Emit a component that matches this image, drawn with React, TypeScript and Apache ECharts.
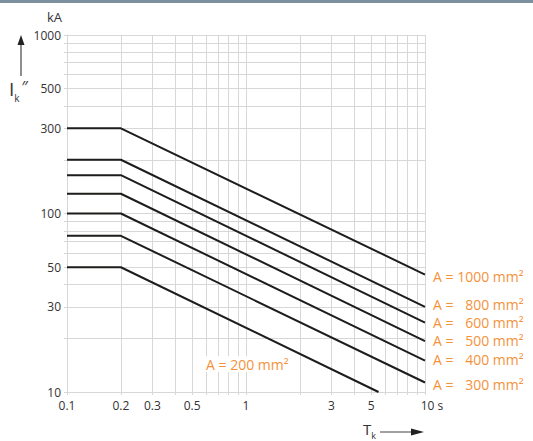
import React, { useEffect, useRef } from "react";
import * as echarts from "echarts";

const timesMain = [0.1, 0.2, 10];
const times200 = [0.1, 0.2, 5.5];
const areas = [1000, 800, 600, 500, 400, 300];
const currents1000 = [300, 300, 45.5];
const currents800 = [200, 200, 30];
const currents600 = [164, 164, 24.5];
const currents500 = [129, 129, 19.3];
const currents400 = [100, 100, 15];
const currents300 = [75, 75, 11.3];
const currents200 = [50, 50, 10];
const xGrid = [0.1, 0.2, 0.3, 0.4, 0.5, 0.6, 0.7, 0.8, 0.9, 1, 2, 3, 4, 5, 6, 7, 8, 9, 10];
const yGrid = [10, 20, 30, 40, 50, 60, 70, 80, 90, 100, 200, 300, 400, 500, 600, 700, 800, 900, 1000];
const xLabels = [0.1, 0.2, 0.3, 0.5, 1, 3, 5, 10];
const yLabels = [10, 30, 50, 100, 300, 500, 1000];

// vertical nudges of the right-hand labels (styling only)
const labelNudge = [2, -2, 0, -1, -1.5, 1.5];

const FONT = "'Open Sans', 'Noto Sans', sans-serif";
const ORANGE = "#f4923a";
const GRID = "#d7d7d7";
const LINE = "#1d1d1b";
const TEXT = "#333333";

export default function App() {
  const ref = useRef<HTMLDivElement>(null);
  useEffect(() => {
    document.body.style.margin = "0";
    const chart = echarts.init(ref.current!, null, { renderer: "svg" });
    const mainSets = [currents1000, currents800, currents600, currents500, currents400, currents300];
    const series: any[] = mainSets.map((vals, i) => {
      const num = String(areas[i]);
      const pad = num.length < 4 ? "\u2007".repeat(4 - num.length) : "";
      return {
        type: "line",
        name: "A" + areas[i],
        data: timesMain.map((t, j) => [t, vals[j]]),
        symbol: "none",
        lineStyle: { color: LINE, width: 2 },
        endLabel: {
          show: true,
          distance: 8,
          offset: [0, labelNudge[i]],
          formatter: "A = " + pad + num + " mm²",
          color: ORANGE,
          fontSize: 14,
          lineHeight: 15,
          fontFamily: FONT,
        },
      };
    });
    series.push({
      type: "line",
      name: "A200",
      data: times200.map((t, j) => [t, currents200[j]]),
      symbol: "none",
      lineStyle: { color: LINE, width: 2 },
    });
    chart.setOption({
      animation: false,
      grid: { left: 67, right: 108, top: 35, bottom: 49 },
      xAxis: {
        type: "log",
        logBase: 10,
        min: 0.1,
        max: 10,
        axisLine: { lineStyle: { color: GRID, width: 1 } },
        axisTick: { show: true, customValues: xGrid, length: 3, lineStyle: { color: GRID } },
        splitLine: { show: true, lineStyle: { color: GRID, width: 1 } },
        axisLabel: {
          customValues: xLabels,
          color: TEXT,
          fontSize: 12,
          fontFamily: FONT,
          margin: 7,
          formatter: (v: number) => (Math.abs(v - 10) < 1e-6 ? "{p|}10 s" : String(+v.toPrecision(3))),
          rich: { p: { width: 14 } },
        },
      },
      yAxis: {
        type: "log",
        logBase: 10,
        min: 10,
        max: 1000,
        axisLine: { show: true, lineStyle: { color: GRID, width: 1 } },
        axisTick: { show: true, customValues: yGrid, length: 3, lineStyle: { color: GRID } },
        splitLine: { show: true, lineStyle: { color: GRID, width: 1 } },
        axisLabel: {
          customValues: yLabels,
          color: TEXT,
          fontSize: 12,
          fontFamily: FONT,
          margin: 6,
          formatter: (v: number) => String(Math.round(v)),
        },
      },
      graphic: [
        { type: "rect", shape: { x: 0, y: 0, width: 533, height: 3 }, style: { fill: "#7b8f9c" } },
        { type: "text", x: 62, y: 17, style: { text: "kA", fill: TEXT, font: "13px " + FONT, align: "right", verticalAlign: "middle" } },
        { type: "line", shape: { x1: 21, y1: 44, x2: 21, y2: 76 }, style: { stroke: "#444", lineWidth: 1.2 } },
        { type: "polygon", shape: { points: [[21, 35], [17.5, 45], [24.5, 45]] }, style: { fill: "#222" } },
        {
          type: "text",
          x: 9,
          y: 79,
          style: {
            text: "{i|I}{k|k}{q|″}",
            rich: {
              i: { fontSize: 19, fontFamily: FONT, fill: TEXT, verticalAlign: "top" },
              k: { fontSize: 10, fontFamily: FONT, fill: TEXT, padding: [14, 0, 0, 0] },
              q: { fontSize: 16, fontFamily: FONT, fill: TEXT, padding: [0, 0, 8, 2] },
            },
          },
        },
        {
          type: "text",
          x: 363,
          y: 417,
          style: {
            text: "{t|T}{k|k}",
            rich: {
              t: { fontSize: 15, fontFamily: FONT, fill: TEXT },
              k: { fontSize: 9, fontFamily: FONT, fill: TEXT, padding: [14, 0, 0, 0] },
            },
          },
        },
        { type: "line", shape: { x1: 380, y1: 432, x2: 414, y2: 432 }, style: { stroke: "#444", lineWidth: 1.2 } },
        { type: "polygon", shape: { points: [[424, 432], [411, 428.5], [411, 435.5]] }, style: { fill: "#222" } },
        {
          type: "text",
          x: 205,
          y: 364,
          z: 10,
          style: {
            text: "A = 200 mm²",
            fill: ORANGE,
            font: "14px " + FONT,
            verticalAlign: "middle",
            backgroundColor: "#ffffff",
            padding: [1, 2, 1, 1],
          },
        },
      ],
      series,
    });
    return () => chart.dispose();
  }, []);
  return <div ref={ref} style={{ width: 533, height: 441 }} />;
}
